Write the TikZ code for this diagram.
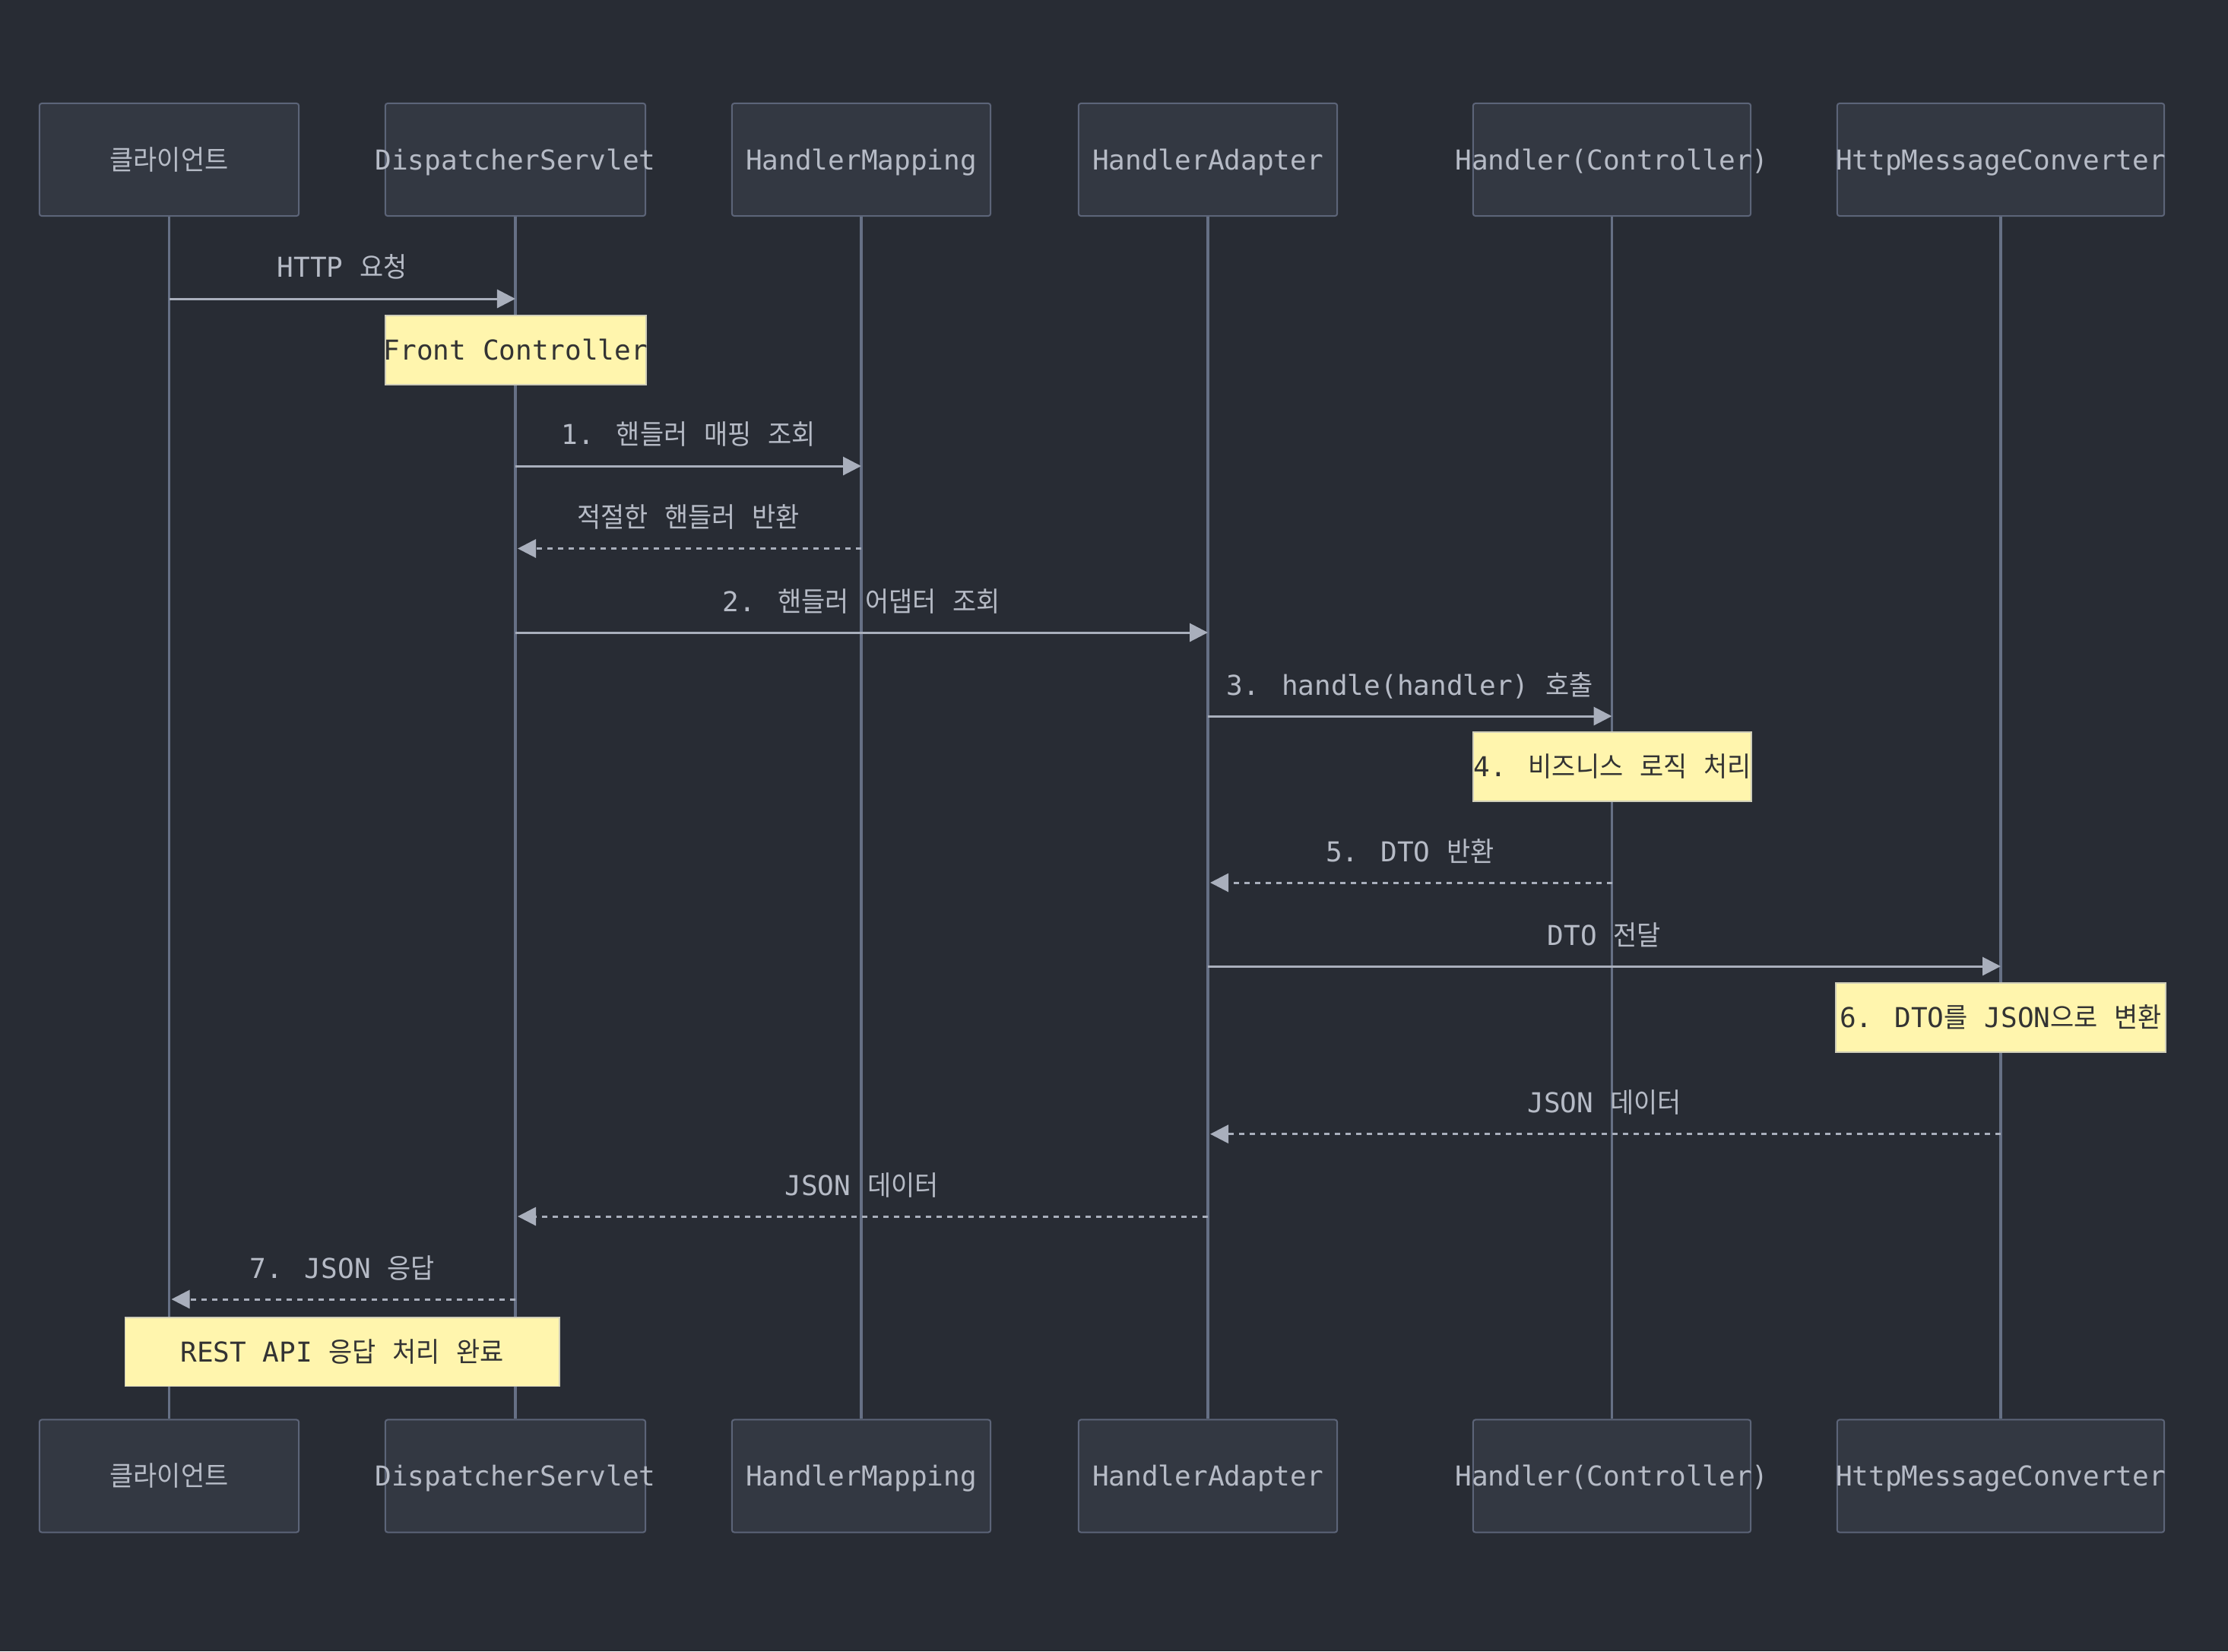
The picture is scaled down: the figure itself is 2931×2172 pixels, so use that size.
\documentclass[tikz,border=0pt]{standalone}
\usepackage{fontspec}
\setmainfont{DejaVu Sans Mono}
\newfontfamily\krfont{Noto Sans CJK KR}[Scale=1.0, FakeStretch=0.94]
\newcommand\K[1]{{\krfont #1}}
\newcommand\ov[1]{\makebox[0pt][c]{#1}}
\usetikzlibrary{arrows.meta}
\definecolor{bg}{HTML}{282C34}
\definecolor{actorfill}{HTML}{333842}
\definecolor{actorline}{HTML}{5C6478}
\definecolor{lifecol}{HTML}{667085}
\definecolor{actortext}{HTML}{B6BBC6}
\definecolor{msgcol}{HTML}{A9AFBC}
\definecolor{msgtext}{HTML}{B6BBC6}
\definecolor{notefill}{HTML}{FFF5AD}
\definecolor{noteline}{HTML}{CFCDB8}
\definecolor{notetext}{HTML}{333333}
\tikzset{
  actor/.style={draw=actorline, fill=actorfill, line width=0.02cm, rounded corners=0.03cm,
    minimum height=1.48cm, text=actortext, text height=0.26cm, text depth=0pt, inner sep=0pt},
  notebox/.style={draw=noteline, fill=notefill, line width=0.015cm, minimum height=0.905cm,
    text=notetext, text height=0.26cm, text depth=0pt, inner sep=0pt},
  lifeline/.style={draw=lifecol, line width=0.035cm},
  msgsolid/.style={draw=msgcol, line width=0.03cm, -{Triangle[length=0.24cm,width=0.24cm]}},
  msgdash/.style={msgsolid, dash pattern=on 0.07cm off 0.07cm, shorten >=0.03cm},
  msglabel/.style={text=msgtext, anchor=base, yshift=0.28cm},
}
% \msg{name}{from}{to}{y}{style}{label}
\newcommand\msg[6]{%
  \coordinate (#1s) at (#2T.south |- 0,#4);
  \coordinate (#1e) at (#3T.south |- 0,#4);
  \draw[#5] (#1s) -- (#1e) node[midway, msglabel] {#6};
}
\begin{document}
\begin{tikzpicture}[x=0.01cm, y=-0.01cm, font=\fontsize{10.25pt}{12pt}\selectfont]
\fill[bg] (0,0) rectangle (2931,2172);
\useasboundingbox (0,0) rectangle (2931,2172);

% actors top
\node[actor, minimum width=3.41cm] (clT) at (222.5,210) {\ov{\K{클라이언트}}};
\node[actor, minimum width=3.42cm] (dsT) at (678,210) {\ov{DispatcherServlet}};
\node[actor, minimum width=3.40cm] (hmT) at (1133,210) {\ov{HandlerMapping}};
\node[actor, minimum width=3.40cm] (haT) at (1589,210) {\ov{HandlerAdapter}};
\node[actor, minimum width=3.65cm] (hcT) at (2120.5,210) {\ov{Handler(Controller)}};
\node[actor, minimum width=4.30cm] (mcT) at (2632,210) {\ov{HttpMessageConverter}};
% actors bottom
\node[actor, minimum width=3.41cm] (clB) at (222.5,1941.5) {\ov{\K{클라이언트}}};
\node[actor, minimum width=3.42cm] (dsB) at (678,1941.5) {\ov{DispatcherServlet}};
\node[actor, minimum width=3.40cm] (hmB) at (1133,1941.5) {\ov{HandlerMapping}};
\node[actor, minimum width=3.40cm] (haB) at (1589,1941.5) {\ov{HandlerAdapter}};
\node[actor, minimum width=3.65cm] (hcB) at (2120.5,1941.5) {\ov{Handler(Controller)}};
\node[actor, minimum width=4.30cm] (mcB) at (2632,1941.5) {\ov{HttpMessageConverter}};

% lifelines
\foreach \a in {cl,ds,hm,ha,hc,mc}{
  \draw[lifeline] (\a T.south) -- (\a B.north);
}

% messages
\msg{m1}{cl}{ds}{393}{msgsolid}{HTTP \K{요청}}
\msg{m2}{ds}{hm}{613}{msgsolid}{1. \K{핸들러} \K{매핑} \K{조회}}
\msg{m3}{hm}{ds}{721.5}{msgdash}{\K{적절한} \K{핸들러} \K{반환}}
\msg{m4}{ds}{ha}{832}{msgsolid}{2. \K{핸들러} \K{어댑터} \K{조회}}
\msg{m5}{ha}{hc}{942}{msgsolid}{3. handle(handler) \K{호출}}
\msg{m6}{hc}{ha}{1161}{msgdash}{5. DTO \K{반환}}
\msg{m7}{ha}{mc}{1271}{msgsolid}{DTO \K{전달}}
\msg{m8}{mc}{ha}{1491.7}{msgdash}{JSON \K{데이터}}
\msg{m9}{ha}{ds}{1600}{msgdash}{JSON \K{데이터}}
\msg{m10}{ds}{cl}{1709}{msgdash}{7. JSON \K{응답}}

% notes
\node[notebox, minimum width=3.43cm] (n1) at (678.5,460.5) {\ov{Front Controller}};
\node[notebox, minimum width=3.66cm] (n2) at (2121,1008.5) {\ov{4. \K{비즈니스} \K{로직} \K{처리}}};
\node[notebox, minimum width=4.34cm] (n3) at (2632,1338.5) {\ov{6. DTO\K{를} JSON\K{으로} \K{변환}}};
\node[notebox, minimum width=5.71cm] (n4) at (450.3,1778) {\ov{REST API \K{응답} \K{처리} \K{완료}}};
\end{tikzpicture}
\end{document}
